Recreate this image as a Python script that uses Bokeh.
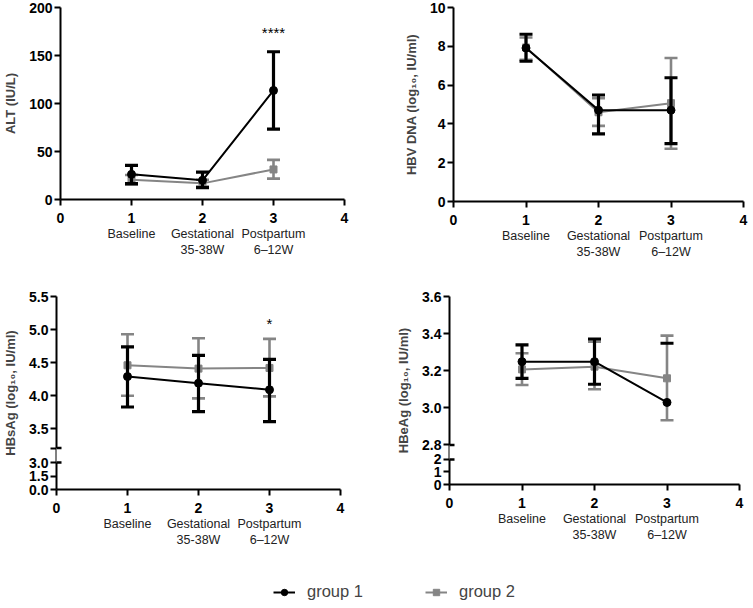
import math
from bokeh.plotting import figure
from bokeh.layouts import column, row
from bokeh.models import FixedTicker, LinearAxis, Range1d, Arrow, Legend, LegendItem
from bokeh.core.properties import value
from bokeh.embed import file_html
from bokeh.resources import INLINE

NAN = float("nan")

# ---------------- data ----------------
timepoints = [1, 2, 3]
x_ticks = [0, 1, 2, 3, 4]
x_tick_labels = ["0", "1", "2", "3", "4"]
stage_labels = ["Baseline", "Gestational\n35-38W", "Postpartum\n6\u201312W"]
group_names = ["group 1", "group 2"]

# ALT (IU/L)
alt_g1 = [26.2, 20.0, 113.6]
alt_g1_lo = [16.5, 12.4, 73.3]
alt_g1_hi = [35.5, 28.6, 153.9]
alt_g2 = [20.5, 16.8, 31.3]
alt_g2_lo = [15.5, 13.5, 21.7]
alt_g2_hi = [25.5, 20.5, 41.3]
alt_sig_x = [3]
alt_sig_y = [174]
alt_sig_text = ["****"]
alt_yticks = [0, 50, 100, 150, 200]
alt_ylabels = ["0", "50", "100", "150", "200"]

# HBV DNA (log10 IU/ml)
dna_g1 = [7.91, 4.71, 4.71]
dna_g1_lo = [7.23, 3.49, 2.98]
dna_g1_hi = [8.62, 5.49, 6.38]
dna_g2 = [7.94, 4.60, 5.07]
dna_g2_lo = [7.31, 3.90, 2.72]
dna_g2_hi = [8.45, 5.32, 7.40]
dna_yticks = [0, 2, 4, 6, 8, 10]
dna_ylabels = ["0", "2", "4", "6", "8", "10"]

# HBsAg (log10 IU/ml)
hbsag_g1 = [4.29, 4.19, 4.09]
hbsag_g1_lo = [3.83, 3.76, 3.61]
hbsag_g1_hi = [4.74, 4.61, 4.55]
hbsag_g2 = [4.46, 4.41, 4.42]
hbsag_g2_lo = [4.00, 3.96, 3.99]
hbsag_g2_hi = [4.93, 4.87, 4.86]
hbsag_sig_x = [3]
hbsag_sig_y = [5.09]
hbsag_sig_text = ["*"]
hbsag_upper_ticks = [3.5, 4.0, 4.5, 5.0, 5.5]
hbsag_upper_labels = ["3.5", "4.0", "4.5", "5.0", "5.5"]
hbsag_lower_ticks = [0.0, 1.5, 3.0]
hbsag_lower_labels = ["0.0", "1.5", "3.0"]

# HBeAg (log10 IU/ml)
hbeag_g1 = [3.249, 3.249, 3.029]
hbeag_g1_lo = [3.159, 3.127, NAN]
hbeag_g1_hi = [3.339, 3.371, 3.348]
hbeag_g2 = [3.207, 3.222, 3.159]
hbeag_g2_lo = [3.123, 3.100, 2.933]
hbeag_g2_hi = [3.294, 3.357, 3.389]
hbeag_upper_ticks = [2.8, 3.0, 3.2, 3.4, 3.6]
hbeag_upper_labels = ["2.8", "3.0", "3.2", "3.4", "3.6"]
hbeag_lower_ticks = [0, 1, 2]
hbeag_lower_labels = ["0", "1", "2"]

# ---------------- style ----------------
FONT = "Liberation Sans"
BLACK = "#000000"
GRAY = "#858585"


def style_axes(p):
    for ax in p.axis:
        ax.axis_line_color = BLACK
        ax.axis_line_width = 2
        ax.major_tick_line_color = BLACK
        ax.major_tick_line_width = 2
        ax.major_tick_out = 6
        ax.major_tick_in = 0
        ax.minor_tick_line_color = None
        ax.major_label_text_font = FONT
        ax.major_label_text_font_style = "bold"
        ax.major_label_text_font_size = "14px"
        ax.major_label_text_color = BLACK
        ax.major_label_standoff = 2


def draw_series(p, y, lo, hi, color, marker, msize, lw_line, lw_err):
    p.line(timepoints, y, line_color=color, line_width=lw_line)
    p.segment(x0=timepoints, y0=lo, x1=timepoints, y1=hi, line_color=color, line_width=lw_err)
    p.scatter(timepoints, hi, marker="dash", size=13, line_color=color, line_width=lw_err)
    p.scatter(timepoints, lo, marker="dash", size=13, line_color=color, line_width=lw_err)
    p.scatter(timepoints, y, marker=marker, size=msize, fill_color=color, line_color=color)


def make_panel(ylabel, y_start, y_end, yticks, ylabels, g1, g2, fw, fh, bl, br, bt,
               sig=None, brk=None):
    p = figure(frame_width=fw, frame_height=fh,
               x_range=Range1d(0, 4), y_range=Range1d(y_start, y_end),
               output_backend="svg", toolbar_location=None,
               min_border_left=bl, min_border_right=br, min_border_top=bt,
               min_border_bottom=0)
    p.xgrid.visible = False
    p.ygrid.visible = False
    p.outline_line_color = None
    p.background_fill_color = "white"

    p.xaxis.ticker = FixedTicker(ticks=x_ticks)
    p.xaxis.major_label_overrides = dict(zip(x_ticks, x_tick_labels))
    p.yaxis.ticker = FixedTicker(ticks=yticks)
    p.yaxis.major_label_overrides = dict(zip(yticks, ylabels))
    style_axes(p)
    p.xaxis.major_label_standoff = 7
    p.yaxis.axis_label = ylabel
    p.yaxis.axis_label_text_font = FONT
    p.yaxis.axis_label_text_font_style = "bold"
    p.yaxis.axis_label_text_font_size = "13px"
    p.yaxis.axis_label_standoff = 8

    cat = LinearAxis(ticker=FixedTicker(ticks=timepoints),
                     major_label_overrides=dict(zip(timepoints, stage_labels)),
                     axis_line_color=None, major_tick_line_color=None,
                     minor_tick_line_color=None, major_label_standoff=-5,
                     major_label_text_font=FONT, major_label_text_font_size="12.5px",
                     major_label_text_color="#222222")
    p.add_layout(cat, "below")
    # empty axis that only reserves a little room under the two-line labels
    spacer = LinearAxis(ticker=FixedTicker(ticks=[]), axis_line_color=None,
                        major_tick_line_color=None, minor_tick_line_color=None,
                        axis_label=" ", axis_label_text_font_size="6px",
                        axis_label_standoff=0)
    p.add_layout(spacer, "below")

    draw_series(p, *g2, GRAY, "square", 7, 2, 2.6)
    draw_series(p, *g1, BLACK, "circle", 8, 2, 3.2)

    if sig is not None:
        sx, sy, st = sig
        p.text(sx, sy, text=st, text_align="center", text_baseline="middle",
               text_font=value(FONT), text_font_size="15px", text_color=BLACK)

    if brk is not None:
        low_top, up_bottom = brk
        p.add_layout(Arrow(end=None, x_start=0, y_start=low_top, x_end=0, y_end=up_bottom,
                           line_color="white", line_width=7))
        dx = 5 * 4 / fw
        for yy in (low_top, up_bottom):
            p.add_layout(Arrow(end=None, x_start=-dx, y_start=yy, x_end=dx, y_end=yy,
                               line_color=BLACK, line_width=2.5))
    return p


def broken_ticks(upper_ticks, upper_labels, lower_ticks, lower_labels, up_bottom, gap, k):
    base = up_bottom - gap - max(lower_ticks) * k
    low_disp = [base + v * k for v in lower_ticks]
    ticks = low_disp + [up_bottom] + list(upper_ticks)
    labels = list(lower_labels) + [""] + list(upper_labels)
    if up_bottom in upper_ticks:
        ticks = low_disp + list(upper_ticks)
        labels = list(lower_labels) + list(upper_labels)
    return base, ticks, labels, (low_disp[-1], up_bottom)


p1 = make_panel("ALT (IU/L)", 0, 200, alt_yticks, alt_ylabels,
                (alt_g1, alt_g1_lo, alt_g1_hi), (alt_g2, alt_g2_lo, alt_g2_hi),
                fw=284, fh=192, bl=54, br=36, bt=7, sig=(alt_sig_x, alt_sig_y, alt_sig_text))
p2 = make_panel("HBV DNA (log\u2081\u2080, IU/ml)", 0, 10, dna_yticks, dna_ylabels,
                (dna_g1, dna_g1_lo, dna_g1_hi), (dna_g2, dna_g2_lo, dna_g2_hi),
                fw=290, fh=194, bl=73, br=8, bt=7)

b3, t3, l3, brk3 = broken_ticks(hbsag_upper_ticks, hbsag_upper_labels,
                                hbsag_lower_ticks, hbsag_lower_labels, 3.21, 0.22, 0.1357)
p3 = make_panel("HBsAg (log\u2081\u2080, IU/ml)", b3, 5.5, t3, l3,
                (hbsag_g1, hbsag_g1_lo, hbsag_g1_hi), (hbsag_g2, hbsag_g2_lo, hbsag_g2_hi),
                fw=284, fh=193, bl=54, br=36, bt=20,
                sig=(hbsag_sig_x, hbsag_sig_y, hbsag_sig_text), brk=brk3)

b4, t4, l4, brk4 = broken_ticks(hbeag_upper_ticks, hbeag_upper_labels,
                                hbeag_lower_ticks, hbeag_lower_labels, 2.8, 0.078, 0.0676)
p4 = make_panel("HBeAg (log\u2081\u2080, IU/ml)", b4, 3.6, t4, l4,
                (hbeag_g1, hbeag_g1_lo, hbeag_g1_hi), (hbeag_g2, hbeag_g2_lo, hbeag_g2_hi),
                fw=290, fh=188, bl=73, br=8, bt=25, brk=brk4)

# ---------------- legend ----------------
lg = figure(width=740, height=48, x_range=Range1d(0, 1), y_range=Range1d(0, 1),
            output_backend="svg", toolbar_location=None, min_border=0)
lg.axis.visible = False
lg.xgrid.visible = False
lg.ygrid.visible = False
lg.outline_line_color = None
l1 = lg.line(x=[NAN], y=[NAN], line_color=BLACK, line_width=2)
s1 = lg.scatter(x=[NAN], y=[NAN], marker="circle", size=8, fill_color=BLACK, line_color=BLACK)
l2 = lg.line(x=[NAN], y=[NAN], line_color=GRAY, line_width=2)
s2 = lg.scatter(x=[NAN], y=[NAN], marker="square", size=7, fill_color=GRAY, line_color=GRAY)
legend = Legend(items=[LegendItem(label=group_names[0], renderers=[l1, s1]),
                       LegendItem(label=group_names[1], renderers=[l2, s2])],
                orientation="horizontal", location=(273, 1),
                border_line_color=None, background_fill_alpha=0,
                label_text_font=FONT, label_text_font_size="16.5px",
                glyph_width=22, glyph_height=16, spacing=62, label_standoff=12,
                padding=2, margin=0)
lg.add_layout(legend, "center")

layout = column(row(p1, p2), row(p3, p4), lg)
open("out.html", "w").write(file_html(layout, INLINE))
